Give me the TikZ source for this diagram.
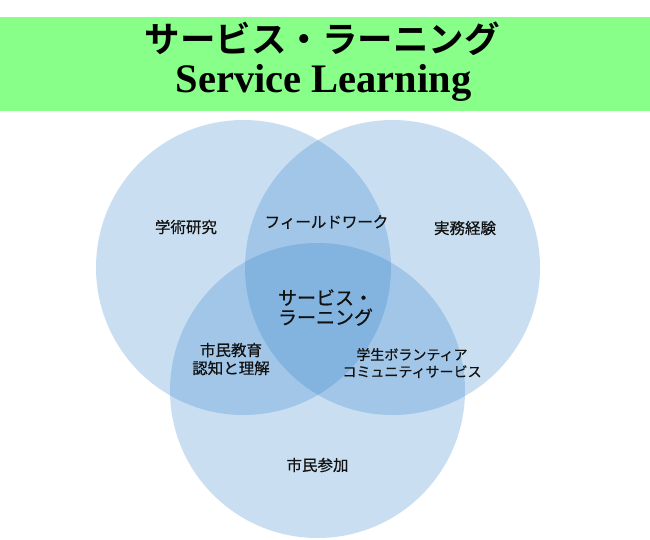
\documentclass[tikz,border=0pt]{standalone}
\usepackage{fontspec}
\newfontfamily\jp{Noto Sans CJK JP}[BoldFont={Noto Sans CJK JP Bold}]
\newfontfamily\jpm{Noto Sans CJK JP}[FakeBold=0.6]
\newfontfamily\tnr{Liberation Serif}
\definecolor{banner}{RGB}{136,255,136}
\definecolor{venn}{RGB}{40,125,200}
\definecolor{ink}{RGB}{17,17,17}
\begin{document}
\begin{tikzpicture}[x=1pt,y=-1pt,
  circ/.style={fill=venn,fill opacity=0.25,draw=none},
  lbl/.style={inner sep=0pt,text=ink,font=\jpm\fontsize{15.5}{18}\selectfont,align=center},
  lblsm/.style={inner sep=0pt,text=ink,font=\jpm\fontsize{14}{17}\selectfont,align=center},
  lblbig/.style={inner sep=0pt,text=ink,font=\jpm\fontsize{19}{19.5}\selectfont,align=left}]
\useasboundingbox (0,0) rectangle (650,539);
\fill[banner] (0,16.7) rectangle (650,110.7);
\node[inner sep=0pt,font=\jp\bfseries\fontsize{35.5}{36}\selectfont] (tjp) at (322,38.5) {サービス・ラーニング};
\node[inner sep=0pt,anchor=base,font=\tnr\bfseries\fontsize{40.5}{42}\selectfont] (ten) at (323.5,92) {Service Learning};
\fill[circ] (243.5,267.5) circle (147.5);
\fill[circ] (392.5,267.5) circle (147.5);
\fill[circ] (317.5,390.5) circle (147.5);
\node[lbl] (gaku) at (186,227) {学術研究};
\node[lbl] (field) at (326.5,222) {フィールドワーク};
\node[lbl] (jitsu) at (465,228) {実務経験};
\node[lblbig] (core) at (325.5,307.5) {サービス・\\ラーニング};
\node[lbl] (shimin) at (231,359) {市民教育\\認知と理解};
\node[lblsm] (gakusei) at (412,363) {学生ボランティア\\コミュニティサービス};
\node[lbl] (sanka) at (317.5,465) {市民参加};
\end{tikzpicture}
\end{document}
